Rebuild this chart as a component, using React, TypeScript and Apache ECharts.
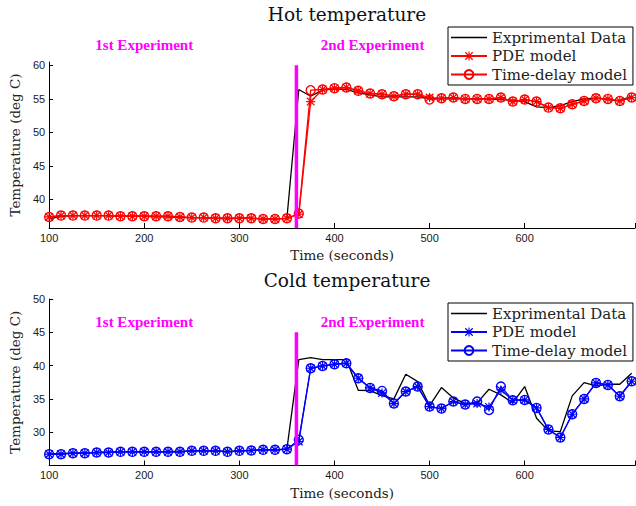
import React, { useEffect, useRef } from "react";
import * as echarts from "echarts";

// sample times (seconds)
const times = [
  100, 112.5, 125, 137.5, 150, 162.5, 175, 187.5, 200, 212.5,
  225, 237.5, 250, 262.5, 275, 287.5, 300, 312.5, 325, 337.5,
  350, 362.5, 375, 387.5, 400, 412.5, 425, 437.5, 450, 462.5,
  475, 487.5, 500, 512.5, 525, 537.5, 550, 562.5, 575, 587.5,
  600, 612.5, 625, 637.5, 650, 662.5, 675, 687.5, 700, 712.5,
];

// Hot temperature
const hotExp = [
  37.1, 37.5, 37.6, 37.6, 37.6, 37.6, 37.5, 37.5, 37.5, 37.4,
  37.4, 37.3, 37.3, 37.3, 37.2, 37.1, 37.2, 37.2, 37.1, 37.1,
  37.2, 56.4, 55.4, 56.3, 56.5, 56.4, 55.9, 55.6, 55.3, 55.3,
  55.3, 55.3, 55.0, 55.0, 55.0, 55.0, 55.0, 55.0, 54.9, 54.8,
  54.6, 53.8, 53.7, 54.0, 54.6, 55.0, 55.1, 54.9, 54.7, 55.4,
];
const hotPDE = [
  37.4, 37.6, 37.6, 37.6, 37.6, 37.6, 37.5, 37.5, 37.5, 37.5,
  37.5, 37.4, 37.3, 37.3, 37.2, 37.2, 37.2, 37.2, 37.1, 37.1,
  37.2, 37.8, 54.6, 56.4, 56.6, 56.7, 56.2, 55.8, 55.7, 55.4,
  55.7, 55.7, 55.2, 55.1, 55.2, 55.0, 55.0, 55.0, 55.2, 54.6,
  54.9, 54.6, 53.7, 53.6, 54.2, 54.7, 55.1, 55.0, 54.7, 55.2,
];
const hotTD = [
  37.4, 37.6, 37.6, 37.6, 37.6, 37.6, 37.5, 37.5, 37.5, 37.5,
  37.5, 37.4, 37.3, 37.3, 37.2, 37.2, 37.2, 37.2, 37.1, 37.1,
  37.2, 37.9, 56.3, 56.4, 56.6, 56.7, 56.2, 55.8, 55.7, 55.4,
  55.7, 55.7, 54.9, 55.1, 55.2, 55.0, 55.0, 55.0, 55.2, 54.6,
  54.9, 54.6, 53.7, 53.6, 54.2, 54.7, 55.1, 55.0, 54.7, 55.2,
];

// Cold temperature
const coldExp = [
  26.7, 26.8, 26.85, 26.9, 26.95, 27.0, 27.05, 27.05, 27.05, 27.05,
  27.1, 27.1, 27.2, 27.2, 27.2, 27.1, 27.2, 27.3, 27.35, 27.35,
  27.45, 40.9, 41.2, 40.9, 40.9, 40.9, 36.3, 36.25, 35.5, 35.0,
  38.7, 37.6, 34.0, 36.7, 35.15, 34.3, 34.4, 36.45, 35.6, 34.4,
  36.85, 32.1, 30.2, 30.1, 35.45, 37.45, 36.95, 37.2, 37.2, 38.85,
];
const coldPDE = [
  26.7, 26.7, 26.85, 26.85, 26.95, 26.95, 27.05, 27.05, 27.05, 27.05,
  27.05, 27.05, 27.2, 27.2, 27.2, 27.05, 27.2, 27.25, 27.35, 27.35,
  27.45, 28.6, 39.6, 39.95, 40.2, 40.35, 38.1, 36.65, 35.9, 34.3,
  36.1, 36.85, 33.85, 33.55, 34.6, 34.15, 34.3, 33.8, 36.35, 34.8,
  34.85, 33.65, 30.4, 29.2, 32.7, 35.0, 37.4, 37.1, 35.4, 37.65,
];
const coldTD = [
  26.7, 26.7, 26.85, 26.85, 26.95, 26.95, 27.05, 27.05, 27.05, 27.05,
  27.05, 27.05, 27.2, 27.2, 27.2, 27.05, 27.2, 27.25, 27.35, 27.35,
  27.45, 28.85, 39.6, 39.95, 40.2, 40.35, 38.1, 36.65, 36.2, 34.3,
  36.1, 36.85, 33.85, 33.55, 34.6, 34.15, 34.6, 33.35, 36.85, 34.8,
  34.85, 33.65, 30.4, 29.2, 32.7, 35.0, 37.4, 37.1, 35.4, 37.65,
];

const xTicks = [100, 200, 300, 400, 500, 600, 700];
const hotYTicks = [40, 45, 50, 55, 60];
const coldYTicks = [30, 35, 40, 45, 50];
const switchTime = 360;
const hotDivider = [60, 35.75];
const coldDivider = [45, 25];
const legendNames = ["Exprimental Data", "PDE model", "Time-delay model"];

const ASTERISK =
  "path://M8.7 0H11.3V20H8.7Z M0 8.7H20V11.3H0Z M2.5 0.6L19.4 17.5L17.5 19.4L0.6 2.5Z M17.5 0.6L19.4 2.5L2.5 19.4L0.6 17.5Z";
const LINE_ICON = "path://M0 0H36V1.3H0Z";

const SERIF = "DejaVu Serif";
const SANS = "Liberation Sans";

function pairs(vals: number[]) {
  return times.map((t, i) => [t, vals[i]]);
}

function chartSeries(idx: number, exp: number[], pde: number[], td: number[], color: string, divider: number[], suffix: string) {
  return [
    {
      name: "Exprimental Data" + suffix,
      type: "line",
      xAxisIndex: idx,
      yAxisIndex: idx,
      data: pairs(exp),
      symbol: "none",
      lineStyle: { color: "#000", width: 1.3 },
      itemStyle: { color: "#000" },
      z: 2,
    },
    {
      name: "Time-delay model" + suffix,
      type: "line",
      xAxisIndex: idx,
      yAxisIndex: idx,
      data: pairs(td),
      symbol: "circle",
      symbolSize: 9,
      showAllSymbol: true,
      lineStyle: { color, width: 1.3 },
      itemStyle: { color: "rgba(0,0,0,0)", borderColor: color, borderWidth: 1.4 },
      z: 3,
    },
    {
      name: "PDE model" + suffix,
      type: "line",
      xAxisIndex: idx,
      yAxisIndex: idx,
      data: pairs(pde),
      symbol: ASTERISK,
      symbolSize: 9,
      showAllSymbol: true,
      lineStyle: { color, width: 1.3 },
      itemStyle: { color },
      z: 4,
    },
    {
      name: "divider" + suffix,
      type: "line",
      xAxisIndex: idx,
      yAxisIndex: idx,
      data: divider.map((v) => [switchTime, v]),
      symbol: "none",
      lineStyle: { color: "#ff00ff", width: 3.5 },
      z: 6,
      silent: true,
    },
  ];
}

function xAxisCfg(idx: number) {
  return {
    type: "value",
    gridIndex: idx,
    min: 100,
    max: 716,
    interval: 100,
    name: "Time (seconds)",
    nameLocation: "middle",
    nameGap: 20,
    nameTextStyle: { fontFamily: SERIF, fontSize: 13.5, color: "#222" },
    axisLine: { show: true, lineStyle: { color: "#000", width: 1 } },
    axisTick: { show: true, inside: true, length: 5, lineStyle: { color: "#000" } },
    axisLabel: { fontFamily: SANS, fontSize: 11, color: "#1a1a1a", margin: 4, showMaxLabel: false, customValues: xTicks },
    splitLine: { show: false },
  };
}

function yAxisCfg(idx: number, min: number, max: number, ticks: number[]) {
  return {
    type: "value",
    gridIndex: idx,
    min,
    max,
    name: "Temperature (deg C)",
    nameLocation: "middle",
    nameGap: 22,
    nameTextStyle: { fontFamily: SERIF, fontSize: 13.5, color: "#222" },
    axisLine: { show: true, lineStyle: { color: "#000", width: 1 } },
    axisTick: { show: true, inside: true, length: 4, lineStyle: { color: "#000" }, customValues: ticks },
    axisLabel: { fontFamily: SANS, fontSize: 11, color: "#1a1a1a", margin: 4, customValues: ticks },
    splitLine: { show: false },
  };
}

function legendCfg(top: number, suffix: string) {
  return {
    orient: "vertical",
    left: 448,
    top,
    data: legendNames.map((n, i) => (i === 0 ? { name: n + suffix, icon: LINE_ICON } : { name: n + suffix })),
    formatter: (n: string) => n.replace(suffix, ""),
    itemWidth: 36,
    itemHeight: 11,
    itemGap: 3.5,
    padding: [3, 6, 3, 2],
    borderColor: "#000",
    borderWidth: 1,
    backgroundColor: "#fff",
    textStyle: { fontFamily: SERIF, fontSize: 15, color: "#222" },
    selectedMode: false,
  };
}

export default function App() {
  const ref = useRef<HTMLDivElement>(null);
  useEffect(() => {
    if (!ref.current) return;
    const chart = echarts.init(ref.current, undefined, { renderer: "svg" });
    chart.setOption({
      animation: false,
      backgroundColor: "#fff",
      title: [
        { text: "Hot temperature", left: 342, top: 0, textAlign: "center", textStyle: { fontFamily: SERIF, fontSize: 18.5, fontWeight: "normal", color: "#111" } },
        { text: "Cold temperature", left: 342, top: 266, textAlign: "center", textStyle: { fontFamily: SERIF, fontSize: 18.5, fontWeight: "normal", color: "#111" } },
      ],
      grid: [
        { left: 43, top: 62, width: 592, height: 166 },
        { left: 43, top: 299, width: 592, height: 166.5 },
      ],
      xAxis: [xAxisCfg(0), xAxisCfg(1)],
      yAxis: [yAxisCfg(0, 35.75, 60.5, hotYTicks), yAxisCfg(1, 25, 50, coldYTicks)],
      legend: [legendCfg(27, ""), legendCfg(303, "#2")],
      series: [
        ...chartSeries(0, hotExp, hotPDE, hotTD, "#ff0000", hotDivider, ""),
        ...chartSeries(1, coldExp, coldPDE, coldTD, "#0000ff", coldDivider, "#2"),
      ],
    });
    const p1 = chart.convertToPixel({ gridIndex: 0 }, [200, 60]) as number[];
    const p2 = chart.convertToPixel({ gridIndex: 0 }, [440, 60]) as number[];
    const labelStyle = { fontFamily: "Liberation Serif", fontWeight: "bold", fontSize: 15, fill: "#ff00ff", textAlign: "center", textVerticalAlign: "middle" };
    chart.setOption({
      graphic: [
        { type: "text", x: p1[0], y: 45, style: { ...labelStyle, text: "1st Experiment" } },
        { type: "text", x: p2[0], y: 45, style: { ...labelStyle, text: "2nd Experiment" } },
        { type: "text", x: p1[0], y: 322, style: { ...labelStyle, text: "1st Experiment" } },
        { type: "text", x: p2[0], y: 322, style: { ...labelStyle, text: "2nd Experiment" } },
      ],
    });
    return () => chart.dispose();
  }, []);
  return <div ref={ref} style={{ position: "fixed", left: 0, top: 0, width: 636, height: 506 }} />;
}
